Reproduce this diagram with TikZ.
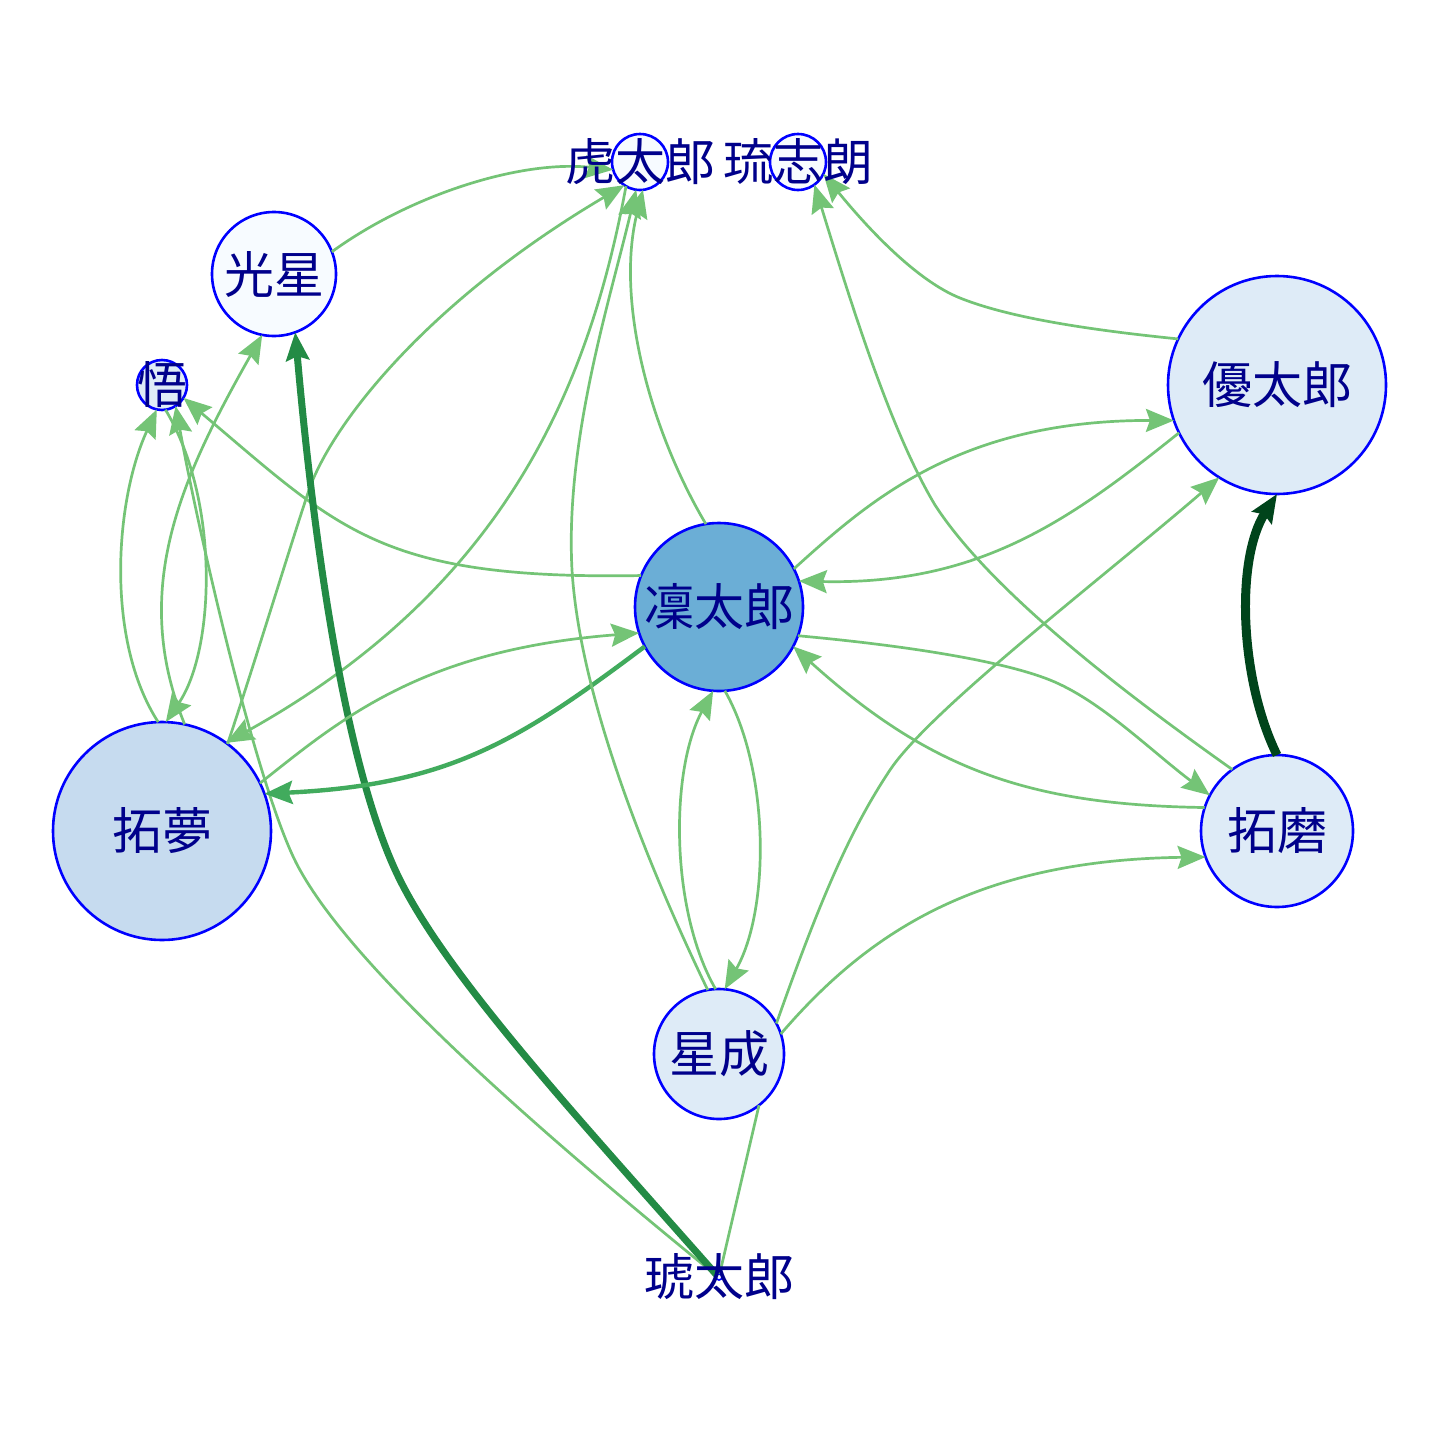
\documentclass[tikz,border=0pt]{standalone}
\usepackage{fontspec}
\newfontfamily\jp{Noto Sans CJK JP}
\usetikzlibrary{arrows.meta}
\definecolor{vborder}{HTML}{0000FF}
\definecolor{vtext}{HTML}{00008B}
\definecolor{fa}{HTML}{F7FBFF}
\definecolor{fb}{HTML}{DEEBF7}
\definecolor{fc}{HTML}{C6DBEF}
\definecolor{fd}{HTML}{6BAED6}
\definecolor{ea}{HTML}{74C476}
\definecolor{eb}{HTML}{41AB5D}
\definecolor{ec}{HTML}{238B45}
\definecolor{ed}{HTML}{00441B}
\tikzset{
  vert/.style={circle, draw=vborder, line width=1.3pt, inner sep=0pt, outer sep=0pt},
  lab/.style={font=\jp\fontsize{25pt}{25pt}\selectfont, text=vtext, inner sep=0pt},
  edge/.style={draw=ea, line width=1.35pt, -{Stealth[length=14pt,width=11.5pt,inset=2pt]}},
  plainedge/.style={draw=ea, line width=1.35pt},
}
\begin{document}
\begin{tikzpicture}[x=0.5pt,y=-0.5pt]
\fill[white] (0,0) rectangle (1440,1440);
\useasboundingbox (0,0) rectangle (1440,1440);
% vertices
\node[vert, fill=fa, minimum size=28pt] (T) at (640,162) {};
\node[vert, fill=fa, minimum size=28pt] (R) at (798,162) {};
\node[vert, fill=fa, minimum size=62pt] (K) at (274,274) {};
\node[vert, fill=fb, minimum size=25pt] (S) at (162,385) {};
\node[vert, fill=fb, minimum size=109pt] (Y) at (1277,385) {};
\node[vert, fill=fd, minimum size=84pt] (N) at (719,607) {};
\node[vert, fill=fc, minimum size=109pt] (M) at (162,831) {};
\node[vert, fill=fb, minimum size=76pt] (TK) at (1277,831) {};
\node[vert, fill=fb, minimum size=65pt] (SS) at (719,1054) {};
\node[vert, fill=fa, minimum size=3pt, line width=0.8pt] (KT) at (719,1277) {};
% edges
\draw[edge] (K.21) .. controls (410,195) and (520,160) .. (T.196);
\draw[edge] (M.53) .. controls (262,640) and (292,540) .. (310,487) .. controls (335,420) and (430,300) .. (T.236);
\draw[edge] (T.240) .. controls (590,380) and (510,585) .. (M.54);
\draw[edge] (N.158) .. controls (380,580) and (340,530) .. (S.329);
\draw[edge] (M.92) .. controls (105,640) and (115,500) .. (S.258);
\draw[edge] (S.278) .. controls (220,500) and (215,650) .. (M.88);
\draw[edge] (M.78) .. controls (130,590) and (180,480) .. (K.259);
\draw[edge] (KT.150) .. controls (500,1100) and (350,960) .. (300,870) .. controls (260,800) and (200,540) .. (S.303);
\draw[edge, draw=ec, line width=3.5pt] (KT.140) .. controls (580,1120) and (450,980) .. (400,880) .. controls (340,760) and (310,500) .. (K.290);
\draw[edge, draw=eb, line width=2.2pt] (N.208) .. controls (520,740) and (450,785) .. (M.20);
\draw[edge] (M.26) .. controls (340,720) and (420,650) .. (N.198);
\draw[edge] (N.99) .. controls (650,430) and (615,300) .. (T.276);
\draw[edge] (SS.100) .. controls (650,870) and (580,700) .. (572,570) .. controls (565,440) and (610,300) .. (T.262);
\draw[edge] (SS.93) .. controls (670,910) and (670,770) .. (N.266);
\draw[edge] (N.274) .. controls (770,770) and (770,910) .. (SS.85);
\draw[edge] (Y.155) .. controls (1090,330) and (1010,318) .. (960,298) .. controls (915,280) and (865,225) .. (R.335);
\draw[edge] (TK.126) .. controls (1120,690) and (990,590) .. (935,505) .. controls (890,430) and (850,300) .. (R.306);
\draw[edge] (N.27) .. controls (870,500) and (960,420) .. (Y.199);
\draw[edge] (Y.206) .. controls (1070,520) and (980,585) .. (N.18);
\draw[edge] (N.340) .. controls (900,645) and (1000,660) .. (1050,680) .. controls (1100,700) and (1150,750) .. (TK.152);
\draw[edge] (TK.162) .. controls (1030,805) and (930,770) .. (N.332);
\draw[edge] (SS.28) .. controls (820,900) and (850,830) .. (890,770) .. controls (930,710) and (1100,580) .. (Y.238);
\draw[edge] (SS.18) .. controls (870,930) and (980,860) .. (TK.200);
\draw[plainedge] (KT.78) -- (SS.308);
\draw[edge, draw=ed, line width=4.5pt] (TK.90) .. controls (1240,680) and (1235,560) .. (Y.270);
% labels
\node[lab] (lT) at (T) {虎太郎};
\node[lab] (lR) at (R) {琉志朗};
\node[lab] (lK) at (K) {光星};
\node[lab] (lS) at (S) {悟};
\node[lab] (lY) at (Y) {優太郎};
\node[lab] (lN) at (N) {凜太郎};
\node[lab] (lM) at (M) {拓夢};
\node[lab] (lTK) at (TK) {拓磨};
\node[lab] (lSS) at (SS) {星成};
\node[lab] (lKT) at (KT) {琥太郎};
\end{tikzpicture}
\end{document}
